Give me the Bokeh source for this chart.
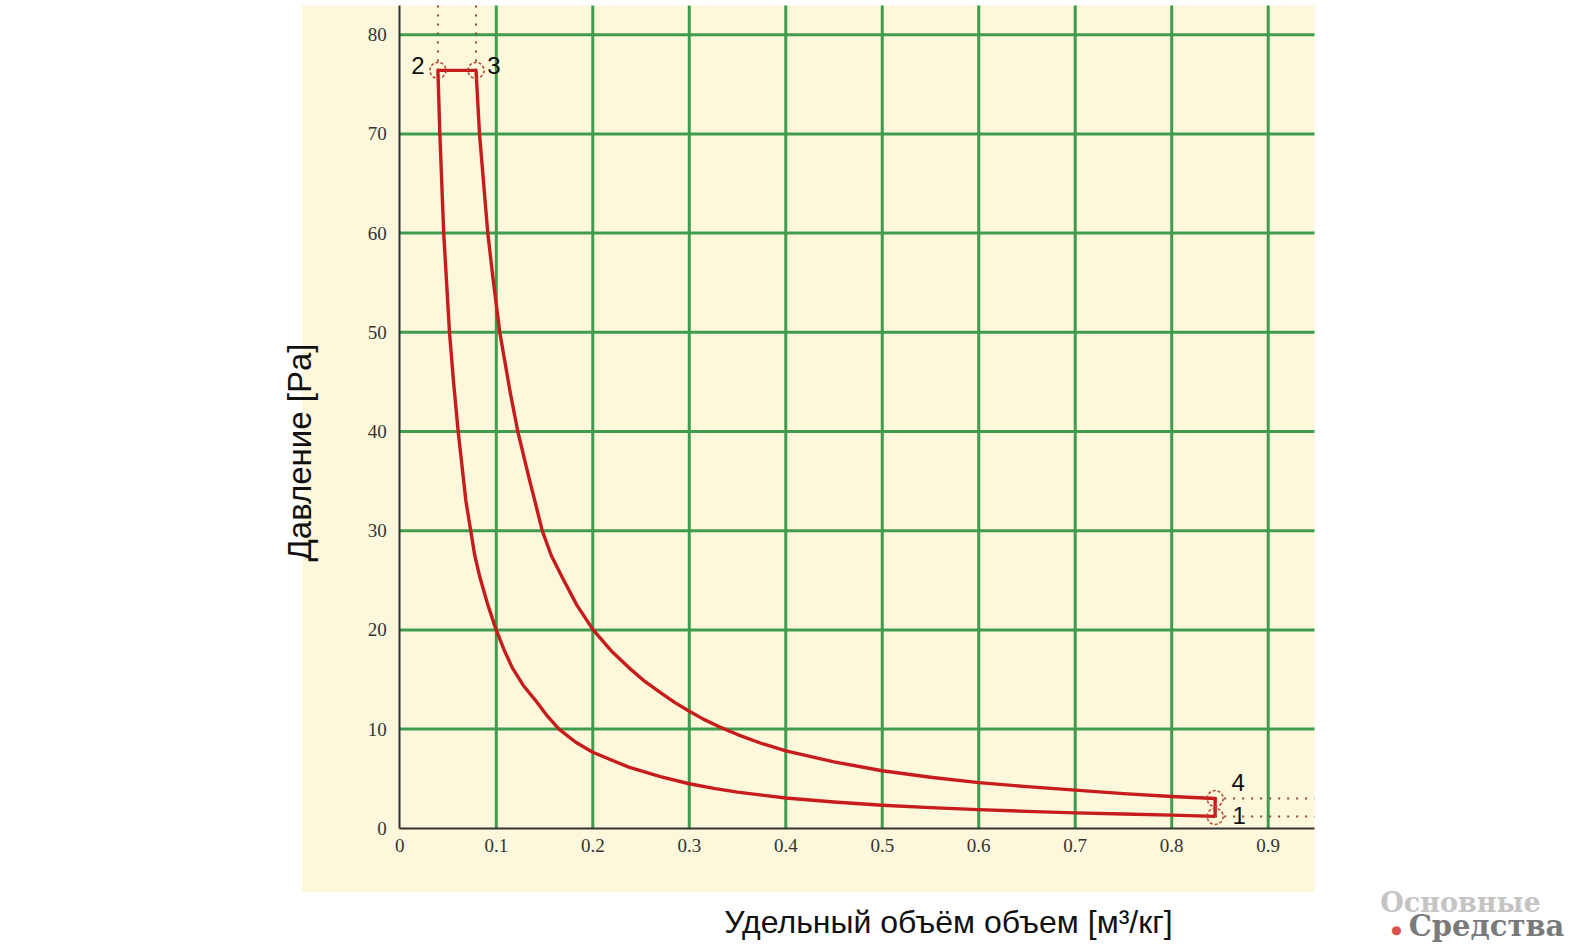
import math
from bokeh.plotting import figure
from bokeh.models import Range1d, FixedTicker, BoxAnnotation, Label, NumeralTickFormatter
from bokeh.embed import file_html
from bokeh.resources import INLINE

# ---- data ----
# compression 1 -> 2 (lower curve), from point 1 towards point 2
v_comp = [0.845, 0.8, 0.75, 0.7, 0.65, 0.6, 0.55, 0.5, 0.45, 0.4, 0.35, 0.327, 0.3, 0.27,
          0.2373, 0.2, 0.182, 0.165, 0.153, 0.1406, 0.128, 0.1165, 0.108, 0.0995,
          0.091, 0.083, 0.0775, 0.0735, 0.0685, 0.0645, 0.0605, 0.0557, 0.0515,
          0.0455, 0.0415, 0.0395]
p_comp = [1.2, 1.33, 1.44, 1.56, 1.71, 1.88, 2.08, 2.33, 2.65, 3.05, 3.65, 4.0, 4.49, 5.2,
          6.16, 7.67, 8.7, 10.0, 11.3, 12.9, 14.4, 16.2, 18.0, 20.1,
          22.6, 25.3, 27.6, 30.0, 33.0, 36.5, 40.0, 45.0, 50.0,
          60.0, 70.0, 76.4]
# expansion 3 -> 4 (upper curve), from point 3 towards point 4
v_exp = [0.079, 0.0826, 0.0912, 0.0964, 0.1036, 0.1147, 0.1223, 0.1337, 0.141, 0.1476,
         0.157, 0.1683, 0.1835, 0.2004, 0.219, 0.2373, 0.254, 0.272, 0.286, 0.301,
         0.315, 0.33, 0.35, 0.375, 0.4, 0.45, 0.5, 0.55, 0.6, 0.65, 0.7, 0.75, 0.8, 0.845]
p_exp = [76.4, 70.0, 60.0, 55.6, 50.0, 43.8, 40.0, 35.4, 32.6, 30.0,
         27.5, 25.3, 22.5, 20.0, 17.9, 16.2, 14.8, 13.56, 12.62, 11.75,
         10.98, 10.28, 9.45, 8.55, 7.8, 6.7, 5.8, 5.15, 4.6, 4.2, 3.85, 3.5, 3.2, 3.0]
# state points 1..4
pt_names = ["1", "2", "3", "4"]
pt_v = [0.845, 0.0395, 0.079, 0.845]
pt_p = [1.2, 76.4, 76.4, 3.0]

x_ticks = [0, 0.1, 0.2, 0.3, 0.4, 0.5, 0.6, 0.7, 0.8, 0.9]
x_tick_labels = ["0", "0.1", "0.2", "0.3", "0.4", "0.5", "0.6", "0.7", "0.8", "0.9"]
y_ticks = [0, 10, 20, 30, 40, 50, 60, 70, 80]
y_tick_labels = ["0", "10", "20", "30", "40", "50", "60", "70", "80"]

x_title = "Удельный объём объем [м³/кг]"
y_title = "Давление [Pa]"
logo_top = "Основные"
logo_bottom = "Средства"

# ---- layout (pixels -> data) ----
W, H = 1578, 944
X0_PX, PX_PER_X = 399.3, 964.9      # x = 0 position, pixels per unit of x
Y0_PX, PX_PER_Y = 827.8, 9.92       # y = 0 position, pixels per unit of y
def dx(px): return (px - X0_PX) / PX_PER_X
def dy(py): return (Y0_PX - py) / PX_PER_Y

X_END = dx(1314)     # right edge of plotting area
Y_END = dy(5)        # top edge of plotting area

CREAM = "#fdf8dc"
GREEN = "#3f9c4e"
RED = "#c71c1c"
DOT = "#8a4a2a"

p = figure(width=W, height=H, title=None,
           x_range=Range1d(dx(0), dx(W)), y_range=Range1d(dy(H), dy(0)),
           output_backend="svg", toolbar_location=None,
           min_border=0, min_border_left=0, min_border_right=0,
           min_border_top=0, min_border_bottom=0,
           background_fill_color="white", border_fill_color="white",
           outline_line_color=None)

# cream panel
p.add_layout(BoxAnnotation(left=dx(301.7), right=X_END, bottom=dy(892), top=Y_END,
                           fill_color=CREAM, fill_alpha=1.0, line_color=None, level="image"))

# grid lines (at tick positions, bounded by the plotting area)
p.xgrid.grid_line_color = None
p.ygrid.grid_line_color = None
gx = x_ticks[1:]
gy = y_ticks[1:]
p.segment(x0=gx, y0=[0] * len(gx), x1=gx, y1=[Y_END] * len(gx),
          line_color=GREEN, line_width=3)
p.segment(x0=[0] * len(gy), y0=gy, x1=[X_END] * len(gy), y1=gy,
          line_color=GREEN, line_width=3)

# axes drawn at x = 0 / y = 0
p.xaxis.fixed_location = 0
p.yaxis.fixed_location = 0
p.xaxis.bounds = (0, X_END)
p.yaxis.bounds = (0, Y_END)
p.xaxis.ticker = FixedTicker(ticks=x_ticks)
p.yaxis.ticker = FixedTicker(ticks=y_ticks)
p.xaxis.formatter = NumeralTickFormatter(format="0.[0]")
p.xaxis.major_label_overrides = dict(zip(x_ticks, x_tick_labels))
p.yaxis.major_label_overrides = dict(zip(y_ticks, y_tick_labels))
for ax in (p.xaxis, p.yaxis):
    ax.axis_line_color = "#333333"
    ax.axis_line_width = 2
    ax.major_tick_line_color = None
    ax.minor_tick_line_color = None
    ax.major_label_text_font = "Liberation Serif"
    ax.major_label_text_font_size = "19px"
    ax.major_label_text_color = "#333333"
p.xaxis.major_label_standoff = 5
p.yaxis.major_label_standoff = 7

# dotted projection lines
p.segment(x0=[pt_v[1], pt_v[2]], y0=[pt_p[1], pt_p[2]],
          x1=[pt_v[1], pt_v[2]], y1=[Y_END, Y_END],
          line_color=DOT, line_width=2, line_dash="2 7")
p.segment(x0=[pt_v[0], pt_v[3]], y0=[pt_p[0], pt_p[3]],
          x1=[X_END, X_END], y1=[pt_p[0], pt_p[3]],
          line_color=DOT, line_width=2, line_dash="2 7")

# cycle 1 -> 2 -> 3 -> 4 -> 1
cyc_v = v_comp + v_exp + [v_comp[0]]
cyc_p = p_comp + p_exp + [p_comp[0]]
p.line(cyc_v, cyc_p, line_color=RED, line_width=3.4, line_join="round")

# state point markers
p.scatter(pt_v, pt_p, marker="circle", size=16, fill_color=None,
          line_color="#b5452e", line_width=1.5, line_dash="3 2")

offsets = {"1": (24, 1), "2": (-20, 5), "3": (18, 5), "4": (23, 16)}
for name, v, pr in zip(pt_names, pt_v, pt_p):
    ox, oy = offsets[name]
    p.add_layout(Label(x=v, y=pr, text=name, x_offset=ox, y_offset=oy,
                       text_align="center", text_baseline="middle",
                       text_font="Liberation Sans", text_font_size="24px",
                       text_color="#111111"))

# axis titles
p.add_layout(Label(x=dx(948), y=dy(921), text=x_title, text_align="center",
                   text_baseline="middle", text_font="Liberation Sans",
                   text_font_size="32px", text_color="#111111"))
p.add_layout(Label(x=dx(299), y=dy(452), text=y_title, angle=math.pi / 2,
                   text_align="center", text_baseline="middle",
                   text_font="Liberation Sans", text_font_size="33px",
                   text_color="#111111"))

# logo
p.add_layout(Label(x=dx(1460), y=dy(902), text=logo_top, text_align="center",
                   text_baseline="middle", text_font="DejaVu Serif",
                   text_font_style="bold", text_font_size="27px", text_color="#c4c4c4"))
p.add_layout(Label(x=dx(1486), y=dy(925), text=logo_bottom, text_align="center",
                   text_baseline="middle", text_font="DejaVu Serif",
                   text_font_style="bold", text_font_size="29px", text_color="#7a7a7a"))
p.add_layout(Label(x=dx(1396), y=dy(929), text="●", text_align="center",
                   text_baseline="middle", text_font="DejaVu Sans",
                   text_font_size="12px", text_color="#d9534f"))

open("out.html", "w").write(file_html(p, INLINE))
